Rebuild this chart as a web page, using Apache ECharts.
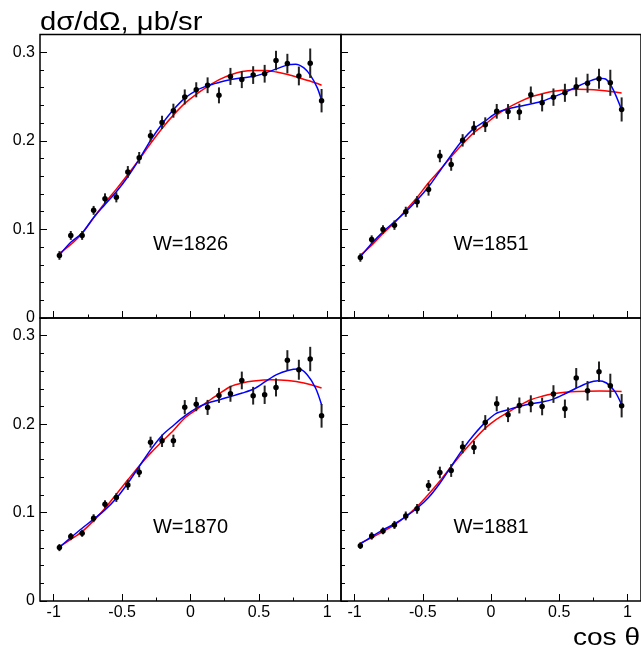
<!DOCTYPE html>
<html><head><meta charset="utf-8">
<script src="https://cdn.jsdelivr.net/npm/echarts@6/dist/echarts.min.js"></script>
<style>html,body{margin:0;padding:0;background:#fff}#c{width:641px;height:651px}</style>
</head><body><div id="c"></div>
<script>
const FONT = 'Liberation Sans';
const cosX = [-0.958,-0.875,-0.792,-0.708,-0.625,-0.542,-0.458,-0.375,-0.292,-0.208,-0.125,-0.042,0.042,0.125,0.208,0.292,0.375,0.458,0.542,0.625,0.708,0.792,0.875,0.958];
const panelLabels = ['W=1826','W=1851','W=1870','W=1881'];
const xMajorTicks = [-1,-0.5,0,0.5,1];
const xMinorTicks = [-0.75,-0.25,0.25,0.75];
const yMajorTicks = [0,0.1,0.2,0.3];
const yMinorTicks = [0.02,0.04,0.06,0.08,0.12,0.14,0.16,0.18,0.22,0.24,0.26,0.28];

const y1826 = [0.0706,0.0932,0.0932,0.1215,0.1347,0.1362,0.1649,0.1808,0.2057,0.2208,0.2340,0.2495,0.2576,0.2627,0.2513,0.2727,0.2691,0.2742,0.2757,0.2906,0.2872,0.2732,0.2876,0.2453];
const e1826 = [0.0049,0.005,0.005,0.005,0.006,0.0057,0.0066,0.0066,0.0066,0.0075,0.0079,0.0085,0.0085,0.0089,0.009,0.0096,0.0096,0.01,0.01,0.011,0.011,0.0106,0.0166,0.0132];
const y1851 = [0.0682,0.0886,0.0999,0.1048,0.1199,0.1312,0.1451,0.1828,0.1734,0.2005,0.2145,0.2182,0.2333,0.2330,0.2326,0.2519,0.2430,0.2493,0.2542,0.2610,0.2650,0.2700,0.2655,0.2354];
const e1851 = [0.0047,0.0047,0.0047,0.0053,0.0057,0.0064,0.007,0.007,0.0072,0.007,0.0077,0.0083,0.0083,0.0085,0.0092,0.0094,0.0098,0.0098,0.0102,0.0106,0.0107,0.0113,0.0147,0.0136];
const y1870 = [0.0604,0.0728,0.0766,0.0936,0.1094,0.117,0.1313,0.1457,0.1796,0.1811,0.1811,0.2192,0.2226,0.2189,0.2325,0.2343,0.2494,0.2321,0.2332,0.2415,0.2721,0.2615,0.2736,0.2094];
const e1870 = [0.004,0.004,0.004,0.0045,0.0045,0.005,0.0057,0.0057,0.0062,0.007,0.007,0.008,0.008,0.0085,0.0085,0.009,0.01,0.01,0.0104,0.0102,0.0115,0.0113,0.0138,0.0134];
const y1881 = [0.0626,0.0736,0.0792,0.086,0.0962,0.1042,0.1306,0.1453,0.1475,0.174,0.1736,0.2019,0.223,0.2106,0.2211,0.223,0.22,0.234,0.2174,0.2521,0.2377,0.2592,0.2434,0.2208];
const e1881 = [0.0038,0.0042,0.0038,0.0045,0.005,0.0055,0.0062,0.0066,0.0072,0.007,0.0075,0.0083,0.0085,0.0083,0.009,0.0096,0.01,0.01,0.0104,0.0113,0.011,0.0117,0.0136,0.0132];

const red1826 = [[-0.958,0.073],[-0.875,0.083],[-0.792,0.0955],[-0.708,0.113],[-0.625,0.13],[-0.542,0.1455],[-0.458,0.162],[-0.375,0.179],[-0.292,0.197],[-0.208,0.214],[-0.125,0.229],[-0.04,0.2425],[0.044,0.2528],[0.127,0.2615],[0.21,0.269],[0.295,0.2745],[0.378,0.2782],[0.461,0.2795],[0.549,0.2795],[0.629,0.2776],[0.712,0.2748],[0.797,0.271],[0.878,0.2672],[0.958,0.2628]];
const blue1826 = [[-0.958,0.071],[-0.875,0.0855],[-0.792,0.096],[-0.708,0.1135],[-0.625,0.128],[-0.542,0.1425],[-0.458,0.1595],[-0.375,0.179],[-0.292,0.2005],[-0.208,0.219],[-0.125,0.235],[-0.039,0.2484],[0.044,0.257],[0.127,0.2623],[0.212,0.266],[0.295,0.2691],[0.378,0.271],[0.461,0.2728],[0.549,0.2767],[0.629,0.2812],[0.712,0.2857],[0.768,0.2864],[0.829,0.2823],[0.878,0.2736],[0.927,0.2597],[0.958,0.2455]];
const red1851 = [[-0.958,0.0709],[-0.875,0.0822],[-0.792,0.0954],[-0.708,0.1074],[-0.625,0.1217],[-0.542,0.1361],[-0.458,0.1527],[-0.375,0.167],[-0.292,0.182],[-0.208,0.1964],[-0.125,0.2092],[-0.044,0.2185],[0.042,0.2292],[0.1225,0.2371],[0.208,0.244],[0.291,0.2495],[0.375,0.2532],[0.458,0.2559],[0.542,0.2573],[0.627,0.2581],[0.71,0.2578],[0.795,0.257],[0.878,0.2557],[0.958,0.254]];
const blue1851 = [[-0.958,0.069],[-0.875,0.084],[-0.792,0.0972],[-0.708,0.1086],[-0.625,0.1199],[-0.542,0.1331],[-0.458,0.1481],[-0.375,0.1659],[-0.292,0.1839],[-0.208,0.2009],[-0.125,0.2141],[-0.044,0.2222],[0.039,0.2314],[0.1225,0.2359],[0.206,0.2389],[0.291,0.2416],[0.374,0.2446],[0.458,0.2495],[0.543,0.2547],[0.627,0.2608],[0.71,0.2665],[0.795,0.2706],[0.847,0.2691],[0.896,0.2578],[0.958,0.2351]];
const red1870 = [[-0.958,0.0615],[-0.875,0.0698],[-0.792,0.0785],[-0.708,0.0909],[-0.625,0.1049],[-0.542,0.1208],[-0.458,0.137],[-0.375,0.1528],[-0.292,0.1672],[-0.208,0.1804],[-0.125,0.1928],[-0.042,0.207],[0.044,0.2165],[0.127,0.2256],[0.21,0.2345],[0.295,0.2426],[0.378,0.2465],[0.461,0.2487],[0.585,0.2502],[0.712,0.2494],[0.829,0.2465],[0.958,0.2408]];
const blue1870 = [[-0.958,0.0608],[-0.875,0.0717],[-0.792,0.0823],[-0.708,0.0925],[-0.625,0.103],[-0.542,0.1162],[-0.458,0.1332],[-0.375,0.1521],[-0.292,0.1709],[-0.208,0.1872],[-0.125,0.1985],[-0.039,0.2095],[0.044,0.2181],[0.127,0.2238],[0.212,0.2276],[0.295,0.2313],[0.378,0.2351],[0.461,0.2397],[0.549,0.2483],[0.629,0.2559],[0.712,0.2607],[0.792,0.2623],[0.853,0.2559],[0.914,0.2408],[0.958,0.2219]];
const red1881 = [[-0.958,0.0653],[-0.875,0.0717],[-0.792,0.0785],[-0.708,0.086],[-0.625,0.0955],[-0.542,0.1068],[-0.458,0.1208],[-0.375,0.1358],[-0.292,0.1521],[-0.208,0.1679],[-0.125,0.1823],[-0.042,0.1955],[0.042,0.2057],[0.1225,0.2132],[0.208,0.221],[0.291,0.2276],[0.375,0.2315],[0.458,0.2343],[0.542,0.236],[0.627,0.237],[0.795,0.2374],[0.958,0.237]];
const blue1881 = [[-0.958,0.0645],[-0.875,0.0728],[-0.792,0.0804],[-0.708,0.0872],[-0.625,0.0955],[-0.542,0.1049],[-0.458,0.117],[-0.375,0.1332],[-0.292,0.1521],[-0.208,0.1715],[-0.125,0.188],[-0.042,0.202],[0.039,0.2122],[0.1225,0.2162],[0.206,0.22],[0.291,0.223],[0.374,0.2249],[0.458,0.2283],[0.543,0.2343],[0.627,0.2408],[0.71,0.2465],[0.785,0.2491],[0.847,0.2465],[0.908,0.237],[0.958,0.2219]];

const panelY = [y1826, y1851, y1870, y1881];
const panelE = [e1826, e1851, e1870, e1881];
const panelRed = [red1826, red1851, red1870, red1881];
const panelBlue = [blue1826, blue1851, blue1870, blue1881];
const labelPos = [0, 0.083];

const chart = echarts.init(document.getElementById('c'), null, {renderer: 'canvas'});
const gridDefs = [
  {left: 40, top: 34.5, width: 301, height: 283.5},
  {left: 341, top: 34.5, width: 301, height: 283.5},
  {left: 40, top: 318, width: 301, height: 283},
  {left: 341, top: 318, width: 301, height: 283}
];
const grid = gridDefs.map(g => Object.assign({show: true, borderColor: '#000', borderWidth: 1.5, backgroundColor: 'transparent'}, g));
const fmt = v => String(Math.round(v * 100) / 100);
const xAxis = [], yAxis = [];
const noLine = {show: false, onZero: false};
for (let i = 0; i < 4; i++) {
  xAxis.push({type: 'value', gridIndex: i, position: 'bottom', min: -1.1, max: 1.1, axisLine: noLine, splitLine: {show: false},
    axisTick: {show: true, inside: true, length: 7, customValues: xMajorTicks, lineStyle: {color: '#000', width: 1}},
    axisLabel: {show: i >= 2, customValues: xMajorTicks, formatter: fmt, margin: 4, color: '#000', fontFamily: FONT, fontSize: 16}});
  yAxis.push({type: 'value', gridIndex: i, position: 'left', min: 0, max: 0.32, axisLine: noLine, splitLine: {show: false},
    axisTick: {show: true, inside: true, length: 7, customValues: yMajorTicks, lineStyle: {color: '#000', width: 1}},
    axisLabel: {show: i % 2 === 0, customValues: yMajorTicks, formatter: fmt, margin: 5, color: '#000', fontFamily: FONT, fontSize: 16}});
}
for (let i = 0; i < 4; i++) {
  xAxis.push({type: 'value', gridIndex: i, position: 'bottom', min: -1.1, max: 1.1, axisLine: noLine, splitLine: {show: false},
    axisTick: {show: true, inside: true, length: 3.5, customValues: xMinorTicks, lineStyle: {color: '#000', width: 1}},
    axisLabel: {show: false}});
  yAxis.push({type: 'value', gridIndex: i, position: 'left', offset: 0, min: 0, max: 0.32, axisLine: noLine, splitLine: {show: false},
    axisTick: {show: true, inside: true, length: 4, customValues: yMinorTicks, lineStyle: {color: '#000', width: 1}},
    axisLabel: {show: false}});
}
const series = [];
for (let i = 0; i < 4; i++) {
  series.push({type: 'line', xAxisIndex: i, yAxisIndex: i, data: panelRed[i], smooth: 0.3, showSymbol: false, silent: true,
    lineStyle: {color: '#ff0000', width: 1.5}, z: 2});
  series.push({type: 'line', xAxisIndex: i, yAxisIndex: i, data: panelBlue[i], smooth: 0.3, showSymbol: false, silent: true,
    lineStyle: {color: '#0000ff', width: 1.5}, z: 3});
  series.push({type: 'custom', xAxisIndex: i, yAxisIndex: i, z: 4,
    data: cosX.map((x, k) => [x, panelY[i][k], panelE[i][k]]),
    renderItem: (params, api) => {
      const x = api.value(0), y = api.value(1), e = api.value(2);
      const p1 = api.coord([x, y - e]), p2 = api.coord([x, y + e]);
      return {type: 'line', shape: {x1: p1[0], y1: p1[1], x2: p2[0], y2: p2[1]}, style: {stroke: '#222', lineWidth: 2}};
    }});
  series.push({type: 'scatter', xAxisIndex: i, yAxisIndex: i, z: 5, symbol: 'circle', symbolSize: 5.5,
    itemStyle: {color: '#000', opacity: 1}, data: cosX.map((x, k) => [x, panelY[i][k]])});
  series.push({type: 'scatter', xAxisIndex: i, yAxisIndex: i, z: 6, symbolSize: 0, silent: true,
    itemStyle: {opacity: 1},
    data: [labelPos], label: {show: true, position: [0, 0], align: 'center', verticalAlign: 'middle', formatter: panelLabels[i], color: '#000', opacity: 1, textBorderWidth: 0, fontFamily: FONT, fontSize: 20}});
}
chart.setOption({
  animation: false,
  backgroundColor: '#fff',
  grid, xAxis, yAxis, series,
  graphic: [
    {type: 'text', x: 40, y: 23, scaleX: 1.17, style: {text: 'dσ/dΩ, μb/sr', font: '25px "Liberation Sans"', fill: '#000', textAlign: 'left', textVerticalAlign: 'middle'}},
    {type: 'text', x: 640, y: 638, scaleX: 1.17, style: {text: 'cos θ', font: '24px "Liberation Sans"', fill: '#000', textAlign: 'right', textVerticalAlign: 'middle'}}
  ]
});
</script></body></html>
